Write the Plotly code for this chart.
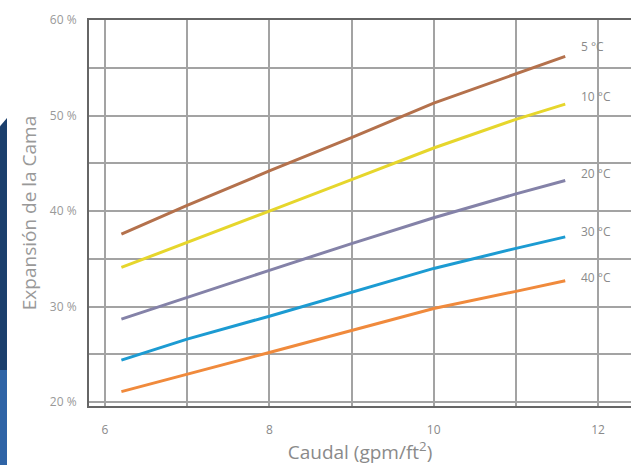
import plotly.graph_objects as go

caudal = [6.2, 7, 8, 9, 10, 11, 11.6]
series_names = ["5 °C", "10 °C", "20 °C", "30 °C", "40 °C"]
exp_5 = [37.6, 40.6, 44.2, 47.7, 51.3, 54.4, 56.2]
exp_10 = [34.1, 36.7, 40.0, 43.3, 46.6, 49.6, 51.2]
exp_20 = [28.7, 31.0, 33.8, 36.6, 39.3, 41.8, 43.2]
exp_30 = [24.4, 26.6, 29.0, 31.5, 34.0, 36.1, 37.3]
exp_40 = [21.1, 22.9, 25.2, 27.5, 29.8, 31.6, 32.7]
colors = ["#B4714C", "#E6D62C", "#8482A8", "#1C9BD2", "#F08A3C"]
label_shift = [10, 8, 7, 5, 3]

all_series = [exp_5, exp_10, exp_20, exp_30, exp_40]

fig = go.Figure()
for name, ys, col in zip(series_names, all_series, colors):
    fig.add_trace(go.Scatter(x=caudal, y=ys, mode="lines", name=name,
                             line=dict(color=col, width=3),
                             showlegend=False))

for name, ys, col, sh in zip(series_names, all_series, colors, label_shift):
    fig.add_annotation(x=caudal[-1], y=ys[-1], text=name, showarrow=False,
                       xanchor="left", yanchor="middle", xshift=14, yshift=sh,
                       font=dict(family="Open Sans, Liberation Sans, sans-serif", size=12, color="#8A8A8A"))

# decorative side band (left edge of the screenshot)
fig.add_shape(type="path", xref="paper", yref="paper",
              path="M -0.1642 0.0933 L -0.1642 0.725 L -0.1513 0.746 L -0.1513 0.0933 Z",
              fillcolor="#1B3F6C", line=dict(width=0), layer="above")
fig.add_shape(type="rect", xref="paper", yref="paper",
              x0=-0.1642, x1=-0.1513, y0=-0.16, y1=0.0933,
              fillcolor="#2F64A6", line=dict(width=0), layer="above")

grid = "#A3A3A3"
fig.update_layout(
    width=631, height=465,
    margin=dict(l=89, r=0, t=20, b=59),
    paper_bgcolor="white", plot_bgcolor="white",
    font=dict(family="Open Sans, Liberation Sans, sans-serif", color="#888888"),
    xaxis=dict(range=[5.806, 12.4], tick0=6, dtick=2, automargin=False,
               showgrid=True, gridcolor=grid, gridwidth=1.5,
               minor=dict(dtick=1, tick0=6, showgrid=True, gridcolor=grid, gridwidth=1.5),
               showline=True, linecolor="#666666", linewidth=2, mirror=True,
               ticks="outside", ticklen=12, tickcolor="rgba(0,0,0,0)",
               tickfont=dict(size=12, color="#8A8A8A"), zeroline=False,
               title=dict(text="Caudal (gpm/ft<sup>2</sup>)", font=dict(size=19, color="#8A8A8A"), standoff=6)),
    yaxis=dict(range=[19.6, 60], tick0=20, dtick=10, ticksuffix=" %", automargin=False,
               showgrid=True, gridcolor=grid, gridwidth=1.5,
               minor=dict(dtick=5, tick0=20, showgrid=True, gridcolor=grid, gridwidth=1.5),
               showline=True, linecolor="#666666", linewidth=2, mirror=False,
               ticks="outside", ticklen=8, tickcolor="rgba(0,0,0,0)",
               tickfont=dict(size=12, color="#999999"), zeroline=False,
               title=dict(text="Expansión de la Cama", font=dict(size=19, color="#999999"), standoff=8)),
)

fig.write_html("out.html", config={"displayModeBar": False},
               post_script="document.body.style.margin='0px';")
